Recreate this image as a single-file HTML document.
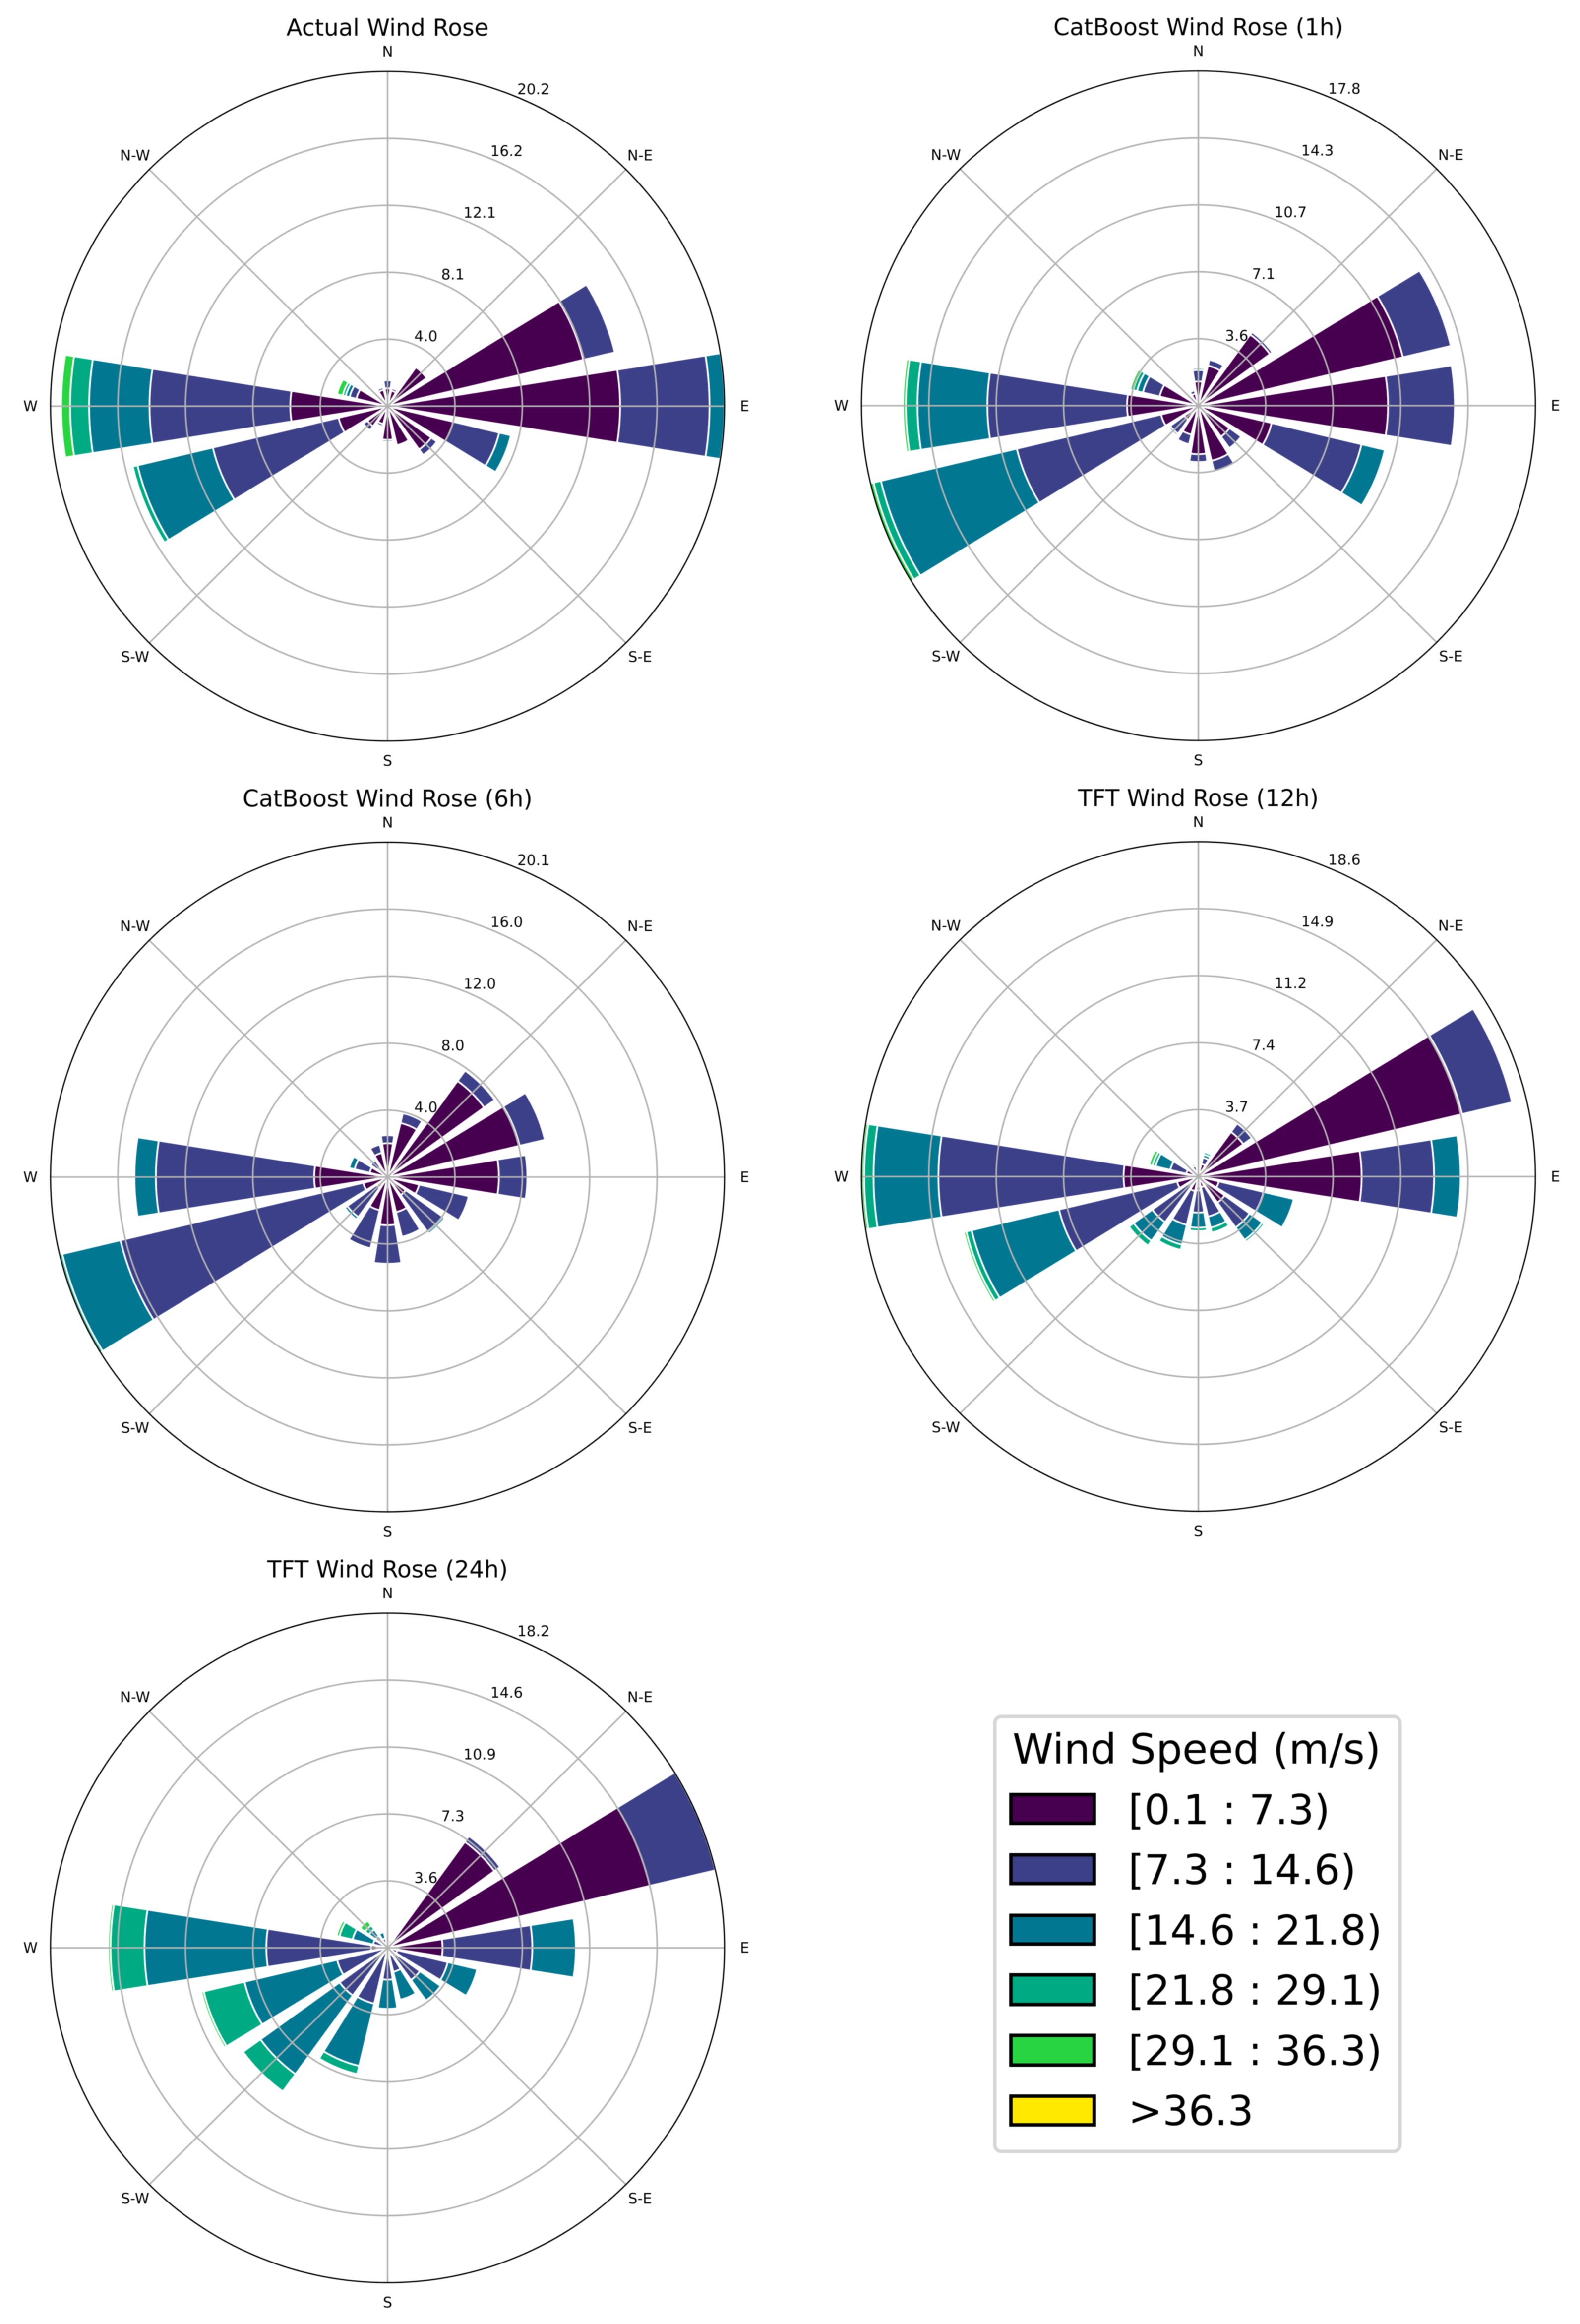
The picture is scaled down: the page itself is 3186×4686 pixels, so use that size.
<!DOCTYPE html>
<html lang="en">
<head>
<meta charset="utf-8">
<title>Wind Rose Comparison</title>
<style>
html,body{margin:0;padding:0;background:#fff;}
svg{display:block;filter:blur(0.7px);}
text{font-family:"DejaVu Sans","Liberation Sans",sans-serif;fill:#000;}
</style>
</head>
<body>
<svg id="figure" width="3186" height="4686" viewBox="0 0 3186 4686">
  <rect x="0" y="0" width="3186" height="4686" fill="#fff"/>
  <g id="panels"></g>
  <g>
    <rect x="2006" y="3461" width="817" height="877" rx="13" ry="13" fill="#fff" stroke="#d6d6d6" stroke-width="7"/>
    <text x="2413" y="3556" font-size="83.5" text-anchor="middle">Wind Speed (m/s)</text>
    <g>
      <rect x="2038.5" y="3618.5" width="168" height="58" fill="#47004f" stroke="#000" stroke-width="7"/>
      <text x="2275" y="3678" font-size="82.5">[0.1 : 7.3)</text>
    </g>
    <g>
      <rect x="2038.5" y="3740" width="168" height="58" fill="#3c4088" stroke="#000" stroke-width="7"/>
      <text x="2275" y="3799" font-size="82.5">[7.3 : 14.6)</text>
    </g>
    <g>
      <rect x="2038.5" y="3862" width="168" height="58" fill="#027791" stroke="#000" stroke-width="7"/>
      <text x="2275" y="3921" font-size="82.5">[14.6 : 21.8)</text>
    </g>
    <g>
      <rect x="2038.5" y="3982" width="168" height="60" fill="#00aa82" stroke="#000" stroke-width="7"/>
      <text x="2275" y="4042" font-size="82.5">[21.8 : 29.1)</text>
    </g>
    <g>
      <rect x="2038.5" y="4104" width="168" height="60" fill="#28d442" stroke="#000" stroke-width="7"/>
      <text x="2275" y="4164" font-size="82.5">[29.1 : 36.3)</text>
    </g>
    <g>
      <rect x="2038.5" y="4226.5" width="168" height="58" fill="#ffe900" stroke="#000" stroke-width="7"/>
      <text x="2275" y="4285" font-size="82.5">&gt;36.3</text>
    </g>
  </g>
</svg>
<script>
// Sector order, clockwise from north
const sectorNames = ['n','nne','ne','ene','e','ese','se','sse','s','ssw','sw','wsw','w','wnw','nw','nnw'];
const compassLabels = ['N','N-E','E','S-E','S','S-W','W','N-W'];

// Actual Wind Rose: frequency (%) per sector for each speed bin
const actualTicks = ['4.0','8.1','12.1','16.2','20.2'];
const actualBin1 = [1.08,0.96,2.90,12.06,13.94,4.04,3.23,2.42,2.03,1.11,1.50,3.02,5.83,1.92,0,1.02];
const actualBin2 = [0.48,0.15,0,1.94,5.36,2.84,0.42,0,0.12,0.15,0.30,7.75,8.44,0.42,0,0.15];
const actualBin3 = [0,0,0,0,0.90,0.72,0,0,0,0,0,4.64,3.62,0.24,0,0];
const actualBin4 = [0,0,0,0,0,0,0,0,0,0,0,0.30,1.14,0.18,0,0];
const actualBin5 = [0,0,0,0,0,0,0,0,0,0,0,0.09,0.54,0.36,0,0];

// CatBoost 1h
const cat1hTicks = ['3.6','7.1','10.7','14.3','17.8'];
const cat1hBin1 = [1.29,2.19,4.67,11.10,10.02,3.98,2.03,3.01,2.58,1.58,0.92,2.03,3.77,2.11,0,0.66];
const cat1hBin2 = [0.61,0.32,0.16,2.61,3.53,4.88,0.76,0.63,0.42,0.53,0.92,7.83,7.38,0.90,0,0.18];
const cat1hBin3 = [0.11,0,0,0,0.08,1.27,0,0,0,0,0.11,7.38,3.69,0.32,0,0];
const cat1hBin4 = [0,0,0,0,0,0,0,0,0,0,0,0.40,0.61,0.21,0,0];
const cat1hBin5 = [0,0,0,0,0,0,0,0,0,0,0,0.18,0.15,0.16,0,0];

// CatBoost 6h
const cat6hTicks = ['4.0','8.0','12.0','16.0','20.1'];
const cat6hBin1 = [2.03,3.34,7.12,8.10,6.64,1.94,1.34,2.17,2.89,2.05,0.80,1.49,4.38,1.10,0.74,1.49];
const cat6hBin2 = [0.48,0.60,0.77,1.55,1.70,3.04,2.71,1.52,2.32,2.35,2.17,14.89,9.44,0.92,0.51,0.51];
const cat6hBin3 = [0,0,0,0,0,0,0.15,0,0,0,0.18,3.57,1.28,0.33,0.12,0];
const cat6hBin4 = [0,0,0,0,0,0,0,0,0,0,0,0.15,0,0,0,0];
const cat6hBin5 = [0,0,0,0,0,0,0,0,0,0,0,0,0,0,0,0];

// TFT 12h
const tft12hTicks = ['3.7','7.4','11.2','14.9','18.6'];
const tft12hBin1 = [0,0.72,3.06,14.96,9.01,1.16,1.79,0.61,0.77,0.83,0.66,1.21,4.13,0.69,0,0.33];
const tft12hBin2 = [0,0.36,0.58,2.84,4.00,2.54,1.71,1.68,1.24,1.93,2.48,6.70,10.22,0.91,0,0.28];
const tft12hBin3 = [0,0.17,0,0,1.46,1.71,0.85,0.63,0.83,1.13,1.27,4.96,3.58,0.83,0,0.11];
const tft12hBin4 = [0,0.14,0,0,0,0,0.14,0.28,0.19,0.30,0.33,0.30,0.52,0.17,0,0];
const tft12hBin5 = [0,0,0,0,0,0,0,0,0,0,0,0.14,0.14,0.19,0,0];

// TFT 24h
const tft24hTicks = ['3.6','7.3','10.9','14.6','18.2'];
const tft24hBin1 = [0,0.43,7.12,14.56,2.97,0.54,0.54,0.40,0.54,0.13,0.13,0.13,0.89,0.27,0.08,0.13];
const tft24hBin2 = [0,0,0.38,3.64,4.85,2.80,1.62,0.94,1.19,2.99,3.07,2.67,5.66,0.54,0.73,0.40];
const tft24hBin3 = [0,0,0,0,2.35,1.64,1.38,1.56,1.59,3.48,5.28,5.15,6.58,1.13,0.43,0.35];
const tft24hBin4 = [0,0,0,0,0,0,0,0,0,0.46,1.16,2.26,1.83,0.73,0.27,0];
const tft24hBin5 = [0,0,0,0,0,0,0,0,0,0,0,0.13,0.13,0.16,0.32,0];

const binColors = ['#47004f','#3c4088','#027791','#00aa82','#28d442'];

const panels = [
  {key:'actual', title:'Actual Wind Rose', ticks:actualTicks, bins:[actualBin1,actualBin2,actualBin3,actualBin4,actualBin5], col:0, row:0},
  {key:'catboost-1h', title:'CatBoost Wind Rose (1h)', ticks:cat1hTicks, bins:[cat1hBin1,cat1hBin2,cat1hBin3,cat1hBin4,cat1hBin5], col:1, row:0},
  {key:'catboost-6h', title:'CatBoost Wind Rose (6h)', ticks:cat6hTicks, bins:[cat6hBin1,cat6hBin2,cat6hBin3,cat6hBin4,cat6hBin5], col:0, row:1},
  {key:'tft-12h', title:'TFT Wind Rose (12h)', ticks:tft12hTicks, bins:[tft12hBin1,tft12hBin2,tft12hBin3,tft12hBin4,tft12hBin5], col:1, row:1},
  {key:'tft-24h', title:'TFT Wind Rose (24h)', ticks:tft24hTicks, bins:[tft24hBin1,tft24hBin2,tft24hBin3,tft24hBin4,tft24hBin5], col:0, row:2}
];

const root = document.getElementById('figure');
const NS = root.namespaceURI;
const panelRoot = document.getElementById('panels');
const OUTER_RADIUS = 675;
const X_STRETCH = 1.0067;
const SECTOR_HALF_ANGLE = 9.1;

function make(tag, attrs, parent) {
  const el = document.createElementNS(NS, tag);
  for (const k in attrs) el.setAttribute(k, attrs[k]);
  parent.appendChild(el);
  return el;
}
function centerX(col) { return col === 0 ? 781.5 : 2416.5; }
function centerY(col, row) { return 819 + 1554.3 * row - (col === 1 ? 1 : 0); }
function polar(cx, cy, r, deg) {
  const a = deg * Math.PI / 180;
  return [cx + r * Math.sin(a), cy - r * Math.cos(a)];
}
function fmt(p) { return p[0].toFixed(2) + ' ' + p[1].toFixed(2); }
function sectorPath(cx, cy, r0, r1, deg) {
  const a0 = deg - SECTOR_HALF_ANGLE, a1 = deg + SECTOR_HALF_ANGLE;
  return 'M' + fmt(polar(cx, cy, r0, a0)) +
    'L' + fmt(polar(cx, cy, r1, a0)) +
    'A' + r1.toFixed(2) + ' ' + r1.toFixed(2) + ' 0 0 1 ' + fmt(polar(cx, cy, r1, a1)) +
    'L' + fmt(polar(cx, cy, r0, a1)) +
    'A' + r0.toFixed(2) + ' ' + r0.toFixed(2) + ' 0 0 0 ' + fmt(polar(cx, cy, r0, a0)) + 'Z';
}

panels.forEach(function (panel) {
  const cx = centerX(panel.col);
  const cy = centerY(panel.col, panel.row);
  const rmax = Number(panel.ticks[panel.ticks.length - 1]);
  const rScale = function (v) { return v / rmax * OUTER_RADIUS; };

  const group = make('g', {}, panelRoot);
  
  

  const title = make('text', {x: cx, y: cy - 747, 'font-size': 47, 'text-anchor': 'middle'}, group);
  title.textContent = panel.title;
  
  

  const plot = make('g', {transform: 'translate(' + cx + ' ' + cy + ') scale(' + X_STRETCH + ' 1) translate(' + (-cx) + ' ' + (-cy) + ')'}, group);
  
  

  const clipId = 'clip-' + panel.key;
  const clip = make('clipPath', {id: clipId}, plot);
  make('circle', {cx: cx, cy: cy, r: OUTER_RADIUS}, clip);

  const barGroup = make('g', {'clip-path': 'url(#' + clipId + ')'}, plot);
  
  

  sectorNames.forEach(function (sector, s) {
    let total = 0;
    panel.bins.forEach(function (bin, b) {
      const v = bin[s];
      if (v > 0) {
        const bar = make('path', {
          d: sectorPath(cx, cy, rScale(total), rScale(total + v), s * 22.5),
          fill: binColors[b], stroke: '#fff', 'stroke-width': 3.5
        }, barGroup);
        
        
      }
      total += v;
    });
  });

  const gridGroup = make('g', {fill: 'none', stroke: '#b3b3b3', 'stroke-width': 3.2}, plot);
  
  

  panel.ticks.forEach(function (label, i) {
    const ringRadius = OUTER_RADIUS * (i + 1) / panel.ticks.length;
    if (i < panel.ticks.length - 1) {
      const ring = make('circle', {cx: cx, cy: cy, r: ringRadius}, gridGroup);
      
      
    }
    const tick = make('text', {
      x: cx + 0.402 * ringRadius + 23,
      y: cy - 0.922 * ringRadius - 16.5,
      'font-size': 29.5,
      'text-anchor': 'middle',
      'dominant-baseline': 'central'
    }, group);
    tick.textContent = label;
    
    
  });

  compassLabels.forEach(function (label, i) {
    const deg = i * 45;
    const end = polar(cx, cy, OUTER_RADIUS, deg);
    const spoke = make('line', {x1: cx, y1: cy, x2: end[0], y2: end[1]}, gridGroup);
    
    
    const pos = polar(cx, cy, 720, deg);
    const dirLabel = make('text', {
      x: pos[0], y: cy + (pos[1] - cy) * 0.993, 'font-size': 29.5,
      'text-anchor': 'middle', 'dominant-baseline': 'central'
    }, group);
    dirLabel.textContent = label;
    
    
  });

  const outline = make('circle', {cx: cx, cy: cy, r: OUTER_RADIUS, fill: 'none', stroke: '#000', 'stroke-width': 2.6}, plot);
  
  
});
</script>
</body>
</html>
